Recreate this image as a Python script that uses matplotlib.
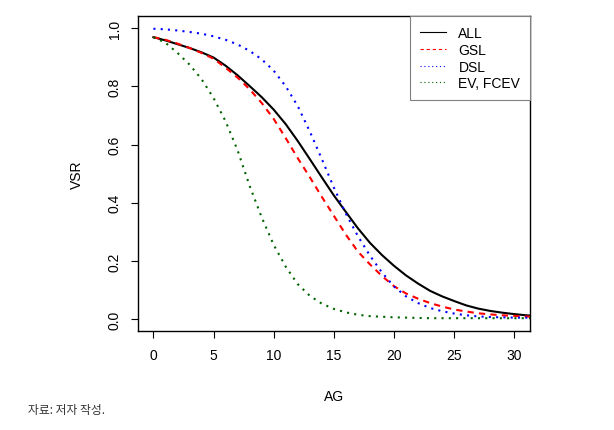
import matplotlib
matplotlib.use("Agg")
import matplotlib.pyplot as plt

# vehicle survival rate by age
age = list(range(0, 33))

vsr_all = [0.969, 0.958, 0.945, 0.932, 0.917, 0.899, 0.871, 0.838, 0.801, 0.763,
           0.720, 0.670, 0.612, 0.550, 0.487, 0.425, 0.368, 0.312, 0.262, 0.220,
           0.183, 0.150, 0.122, 0.097, 0.078, 0.062, 0.047, 0.036, 0.028, 0.022,
           0.017, 0.013, 0.010]

vsr_gsl = [0.969, 0.960, 0.947, 0.932, 0.915, 0.895, 0.864, 0.830, 0.790, 0.743,
           0.688, 0.622, 0.553, 0.488, 0.420, 0.355, 0.290, 0.232, 0.188, 0.148,
           0.113, 0.088, 0.070, 0.055, 0.043, 0.033, 0.026, 0.020, 0.016, 0.013,
           0.011, 0.009, 0.008]

vsr_dsl = [0.998, 0.996, 0.992, 0.987, 0.981, 0.972, 0.960, 0.944, 0.922, 0.893,
           0.854, 0.800, 0.732, 0.645, 0.550, 0.452, 0.362, 0.285, 0.218, 0.160,
           0.112, 0.078, 0.055, 0.038, 0.027, 0.019, 0.013, 0.009, 0.007, 0.006,
           0.005, 0.005, 0.004]

vsr_ev = [0.969, 0.950, 0.915, 0.875, 0.825, 0.760, 0.680, 0.580, 0.458, 0.350,
          0.255, 0.180, 0.120, 0.080, 0.053, 0.035, 0.023, 0.015, 0.010, 0.008,
          0.006, 0.005, 0.004, 0.003, 0.003, 0.003, 0.003, 0.003, 0.003, 0.003,
          0.003, 0.003, 0.003]

x_ticks = [0, 5, 10, 15, 20, 25, 30]
y_ticks = [0.0, 0.2, 0.4, 0.6, 0.8, 1.0]

plt.rcParams['font.family'] = ['Liberation Sans', 'DejaVu Sans']

fig = plt.figure(figsize=(6.14, 4.31), dpi=100)
ax = fig.add_axes([0.2253, 0.229, 0.6379, 0.731])

ax.plot(age, vsr_all, color="black", lw=1.5, label="ALL")
ax.plot(age, vsr_gsl, color="red", lw=1.5, dashes=(3, 2.5), label="GSL")
ax.plot(age, vsr_dsl, color="blue", lw=1.5, dashes=(1, 2.5), label="DSL")
ax.plot(age, vsr_ev, color="#006400", lw=1.5, dashes=(1, 2.5), label="EV, FCEV")

ax.set_xlim(-1.25, 31.3)
ax.set_ylim(-0.042, 1.041)
ax.set_xticks(x_ticks)
ax.set_yticks(y_ticks)
ax.set_xticklabels([str(v) for v in x_ticks])
ax.set_yticklabels(["%.1f" % v for v in y_ticks], rotation=90, va="center")

ax.tick_params(direction="out", length=5, width=0.8, labelsize=10, color="black")
ax.tick_params(axis="x", pad=7)
ax.tick_params(axis="y", pad=7)
for s in ax.spines.values():
    s.set_linewidth(1.0)
    s.set_color("black")

ax.set_xlabel("AG", fontsize=10)
ax.set_ylabel("VSR", fontsize=10)
ax.xaxis.set_label_coords(0.5, -0.183)
ax.yaxis.set_label_coords(-0.140, 0.5)

leg = ax.legend(loc="upper right", bbox_to_anchor=(1, 1), borderaxespad=0,
                fancybox=False, edgecolor="gray", framealpha=1, fontsize=10,
                handlelength=1.9, handletextpad=0.9, labelspacing=0.2,
                borderpad=0.7)
leg.get_frame().set_linewidth(0.8)
for h in leg.get_lines():
    h.set_linewidth(0.8)

fig.text(0.045, 0.047, "자료: 저자 작성.", fontsize=8.5, color="#333333",
         family=['Noto Sans CJK KR', 'DejaVu Sans'], va="center")

fig.savefig("out.png", dpi=100)
